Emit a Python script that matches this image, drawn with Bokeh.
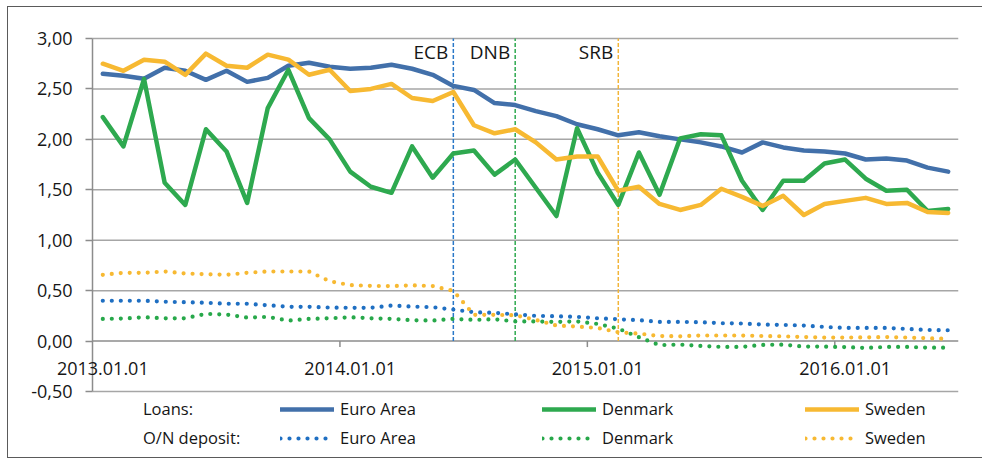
import pandas as pd
from math import pi
from bokeh.plotting import figure
from bokeh.models import (Range1d, FixedTicker, Legend, LegendItem, Label, LinearAxis)
from bokeh.core.properties import value
from bokeh.embed import file_html
from bokeh.resources import INLINE

# ---------------- data ----------------
months = pd.date_range("2013-01-01", periods=42, freq="MS")

ea_loans = [2.65, 2.63, 2.60, 2.71, 2.68, 2.59, 2.68, 2.57, 2.61, 2.73, 2.76, 2.72,
            2.70, 2.71, 2.74, 2.70, 2.64, 2.53, 2.49, 2.36, 2.34, 2.28, 2.23, 2.15,
            2.10, 2.04, 2.07, 2.03, 2.00, 1.97, 1.93, 1.87, 1.97, 1.92, 1.89, 1.88,
            1.86, 1.80, 1.81, 1.79, 1.72, 1.68]
dk_loans = [2.22, 1.93, 2.60, 1.57, 1.35, 2.10, 1.88, 1.37, 2.31, 2.69, 2.21, 2.00,
            1.68, 1.53, 1.47, 1.93, 1.62, 1.86, 1.89, 1.65, 1.80, 1.52, 1.24, 2.11,
            1.67, 1.35, 1.87, 1.45, 2.01, 2.05, 2.04, 1.59, 1.30, 1.59, 1.59, 1.76,
            1.80, 1.61, 1.49, 1.50, 1.29, 1.31]
se_loans = [2.75, 2.68, 2.79, 2.77, 2.64, 2.85, 2.73, 2.71, 2.84, 2.79, 2.64, 2.69,
            2.48, 2.50, 2.55, 2.41, 2.38, 2.47, 2.14, 2.06, 2.10, 1.97, 1.80, 1.83,
            1.83, 1.49, 1.53, 1.36, 1.30, 1.35, 1.51, 1.43, 1.34, 1.44, 1.25, 1.36,
            1.39, 1.42, 1.36, 1.37, 1.28, 1.27]

ea_dep = [0.40, 0.40, 0.40, 0.39, 0.385, 0.38, 0.37, 0.37, 0.355, 0.34, 0.34, 0.332,
          0.33, 0.33, 0.352, 0.342, 0.336, 0.312, 0.286, 0.28, 0.265, 0.25, 0.246, 0.24,
          0.226, 0.216, 0.207, 0.19, 0.19, 0.187, 0.177, 0.174, 0.164, 0.16, 0.154, 0.14,
          0.13, 0.13, 0.13, 0.12, 0.11, 0.107]
dk_dep = [0.22, 0.223, 0.236, 0.226, 0.226, 0.27, 0.263, 0.233, 0.24, 0.203, 0.22, 0.226,
          0.236, 0.226, 0.22, 0.207, 0.203, 0.22, 0.21, 0.216, 0.195, 0.195, 0.19, 0.195,
          0.17, 0.124, 0.038, -0.04, -0.035, -0.048, -0.058, -0.058, -0.038, -0.035, -0.055, -0.055,
          -0.06, -0.068, -0.058, -0.058, -0.065, -0.065]
se_dep = [0.657, 0.677, 0.677, 0.69, 0.67, 0.663, 0.657, 0.677, 0.69, 0.69, 0.69, 0.593,
          0.555, 0.547, 0.545, 0.553, 0.545, 0.498, 0.26, 0.26, 0.256, 0.21, 0.154, 0.144,
          0.13, 0.087, 0.074, 0.05, 0.047, 0.055, 0.055, 0.055, 0.05, 0.047, 0.04, 0.035,
          0.035, 0.037, 0.04, 0.035, 0.028, 0.022]

y_ticks = [-0.5, 0.0, 0.5, 1.0, 1.5, 2.0, 2.5, 3.0]
y_tick_labels = ["-0,50", "0,00", "0,50", "1,00", "1,50", "2,00", "2,50", "3,00"]

events = ["ECB", "DNB", "SRB"]
event_months = ["2014-06", "2014-09", "2015-02"]

series_names = ["Euro Area", "Denmark", "Sweden"]
loan_colors = ["#4270aa", "#2ea94f", "#f7b932"]
dep_colors = ["#1f6fc2", "#27a84a", "#f7b932"]
event_colors = ["#2a78c8", "#2ea94f", "#f2b53a"]

FONT = "Open Sans"
TXT = "#161616"
GRID = "#a6a6a6"
AXIS = "#8c8c8c"

# ---------------- positions (month slots, points centred) ----------------
n = len(months)
x = [i + 0.5 for i in range(n)]
month_keys = [m.strftime("%Y-%m") for m in months]
year_idx = [i for i, m in enumerate(months) if m.month == 1]
x_label_pos = [i + 0.5 for i in year_idx]
x_labels = [months[i].strftime("%Y.%m.%d") for i in year_idx]
x_tick_pos = [i for i in year_idx if i > 0]
event_x = [month_keys.index(m) + 0.5 for m in event_months]

# layout geometry (pixels)
LEFT_PAD, DATA_W, RIGHT_PAD = 84, 866, 25
TOP_PAD, DATA_H, BOTTOM_PAD = 31, 353, 68
y_lo, y_hi = y_ticks[0], y_ticks[-1]
ppu = DATA_H / (y_hi - y_lo)

# ---------------- figure ----------------
p = figure(width=LEFT_PAD + DATA_W + RIGHT_PAD, height=TOP_PAD + DATA_H + BOTTOM_PAD,
           x_range=Range1d(-n * LEFT_PAD / DATA_W, n),
           y_range=Range1d(y_lo - BOTTOM_PAD / ppu, y_hi + TOP_PAD / ppu),
           x_axis_location=None, y_axis_location=None,
           output_backend="svg", toolbar_location=None,
           min_border_left=0, min_border_right=RIGHT_PAD, min_border_top=0, min_border_bottom=0)
p.outline_line_color = None
p.xgrid.visible = False
p.ygrid.visible = False
p.styles = {"margin-left": "7px", "margin-top": "6px",
            "border-left": "1.5px solid #5a5a5a", "border-top": "1.5px solid #5a5a5a",
            "border-bottom": "1.5px solid #5a5a5a"}

# horizontal grid lines across the data area
p.segment(x0=[0] * len(y_ticks), x1=[n] * len(y_ticks), y0=y_ticks, y1=y_ticks,
          line_color=[AXIS if t == 0 else GRID for t in y_ticks], line_width=1.5)

# value axis, fixed at the start of the data area
ticker = FixedTicker(ticks=y_ticks)
ax = LinearAxis(fixed_location=0, ticker=ticker,
                major_label_overrides={t: l for t, l in zip(y_ticks, y_tick_labels)},
                bounds=(y_lo, y_hi),
                axis_line_color=AXIS, axis_line_width=1.5,
                major_tick_line_color=AXIS, major_tick_line_width=1.5,
                major_tick_out=7, major_tick_in=0, minor_tick_out=0, minor_tick_in=0,
                major_label_standoff=13, major_label_text_font=FONT,
                major_label_text_font_size="18px", major_label_text_color=TXT)
p.add_layout(ax, "left")

# time "axis" on the zero line
p.ray(x=x_tick_pos, y=[0] * len(x_tick_pos), length=6, length_units="screen",
      angle=-pi / 2, line_color=AXIS, line_width=1.5)
for lx, lt in zip(x_label_pos, x_labels):
    p.add_layout(Label(x=lx, y=0, text=lt, text_align="center", text_baseline="middle",
                       y_offset=-27, text_font=FONT, text_font_size="18px", text_color=TXT))

# event lines
p.segment(x0=event_x, y0=[0] * 3, x1=event_x, y1=[y_hi] * 3,
          line_color=event_colors, line_dash="4 2", line_width=1.5)
p.text(x=event_x, y=[y_hi] * 3, text=events, text_align="right",
       text_baseline="middle", x_offset=-5, y_offset=13, text_font=value(FONT),
       text_font_size="19px", text_color=TXT)

# series
loan_r = []
for vals, c in zip([ea_loans, dk_loans, se_loans], loan_colors):
    loan_r.append(p.line(x, vals, line_color=c, line_width=4.5, line_join="round", line_cap="round"))
dep_r = []
for vals, c in zip([ea_dep, dk_dep, se_dep], dep_colors):
    dep_r.append(p.line(x, vals, line_color=c, line_width=4.2, line_dash="0 9", line_cap="round"))

# legends
dummy = p.line(x=[], y=[], line_alpha=0)


def make_legend(items, loc, gw, standoff):
    lg = Legend(items=items, location=loc, orientation="vertical", glyph_width=gw,
                glyph_height=20, label_height=20, spacing=6, padding=0, margin=0,
                label_standoff=standoff, border_line_color=None, background_fill_alpha=0,
                label_text_font=FONT, label_text_font_size="16.5px", label_text_color=TXT,
                click_policy="none")
    p.add_layout(lg)


make_legend([LegendItem(label="Loans:", renderers=[dummy]),
             LegendItem(label="O/N deposit:", renderers=[dummy])], (LEFT_PAD + 50, 10), 1, 0)
legend_x = [188, 450, 713]
for name, lr, dr, lx in zip(series_names, loan_r, dep_r, legend_x):
    make_legend([LegendItem(label=name, renderers=[lr]),
                 LegendItem(label=name, renderers=[dr])], (LEFT_PAD + lx, 10), 54, 6)

open("out.html", "w").write(file_html(p, INLINE))
